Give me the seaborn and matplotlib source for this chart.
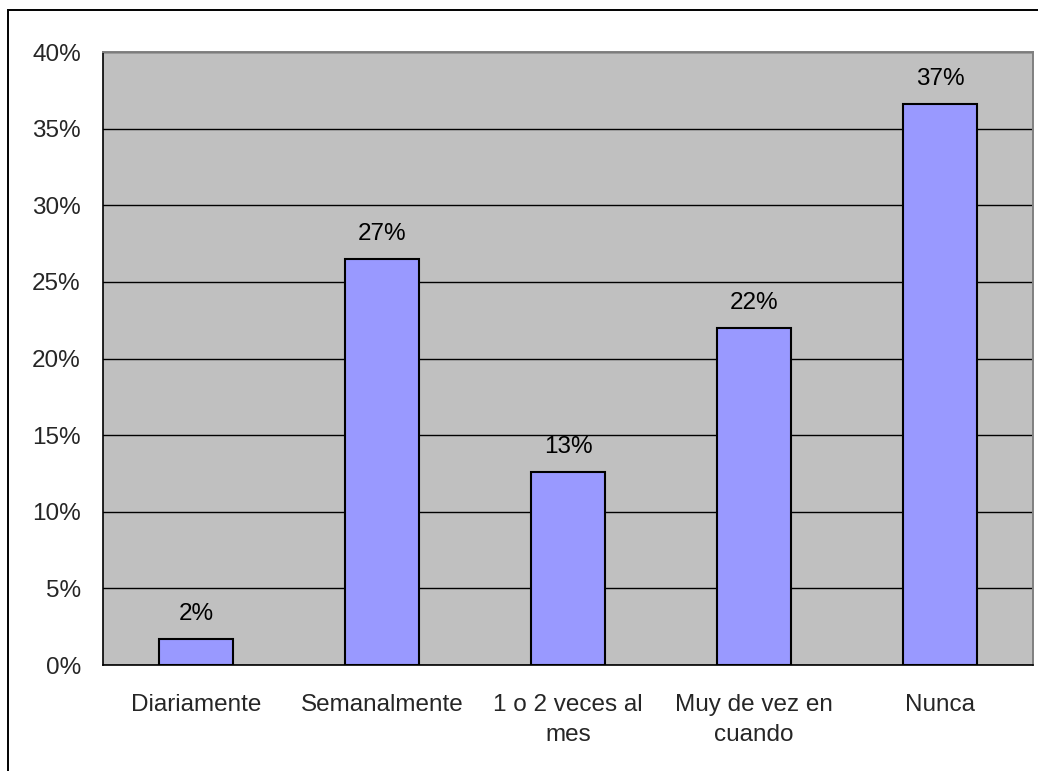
import math
import matplotlib
matplotlib.use("Agg")
import matplotlib.pyplot as plt
from matplotlib.patches import Rectangle
from matplotlib.ticker import FixedLocator
import seaborn as sns
import pandas as pd

categories = ["Diariamente", "Semanalmente", "1 o 2 veces al\nmes", "Muy de vez en\ncuando", "Nunca"]
values = [1.7, 26.5, 12.6, 22.0, 36.6]
y_ticks = [0, 5, 10, 15, 20, 25, 30, 35, 40]

sns.set_style("white")
plt.rcParams["font.family"] = ["Liberation Sans", "DejaVu Sans"]

FS = 17.5

df = pd.DataFrame({"categoria": categories, "porcentaje": values})

fig = plt.figure(figsize=(10.38, 7.71), dpi=100)
ax = fig.add_axes([103 / 1038, 1 - 665 / 771, 930 / 1038, 613 / 771])
ax.set_facecolor("#C0C0C0")

sns.barplot(data=df, x="categoria", y="porcentaje", color="#9999FF", saturation=1,
            width=0.4, edgecolor="black", linewidth=1.5, ax=ax, zorder=3)

ax.set_xlim(-0.5, len(categories) - 0.5)
ax.set_ylim(0, 40)
ax.set_yticks(y_ticks)
ax.set_yticklabels([f"{t}%" for t in y_ticks])
ax.set_xlabel("")
ax.set_ylabel("")

# Category labels without marks; marks sit on the category boundaries
ax.xaxis.set_minor_locator(FixedLocator([i - 0.5 for i in range(len(categories) + 1)]))
ax.tick_params(axis="x", which="major", length=0, pad=21, labelsize=FS)
ax.tick_params(axis="x", which="minor", length=8, width=1, color="black", direction="out")
ax.tick_params(axis="y", which="major", length=8, width=1, color="black", direction="out",
               pad=8, labelsize=FS)
for lab in ax.get_xticklabels():
    lab.set_linespacing(1.45)
    lab.set_verticalalignment("top")

ax.yaxis.grid(True, color="black", linewidth=1)
ax.xaxis.grid(False)
ax.set_axisbelow(True)

for side in ("left", "bottom"):
    ax.spines[side].set_color("black")
    ax.spines[side].set_linewidth(1.2)
for side in ("top", "right"):
    ax.spines[side].set_color("#808080")
    ax.spines[side].set_linewidth(1.4)

# Percentage labels above each bar, rounded half up
for i, v in enumerate(values):
    ax.annotate(f"{math.floor(v + 0.5)}%", xy=(i, v), xytext=(0, 18),
                textcoords="offset points", ha="center", va="center",
                fontsize=FS, color="black")

# Chart frame
fig.patches.append(Rectangle((8 / 1038, -0.05), 1.2, 1 - 10 / 771 + 0.05,
                             transform=fig.transFigure, fill=False,
                             edgecolor="black", linewidth=1.4))

fig.savefig("out.png", dpi=100, facecolor="white")
